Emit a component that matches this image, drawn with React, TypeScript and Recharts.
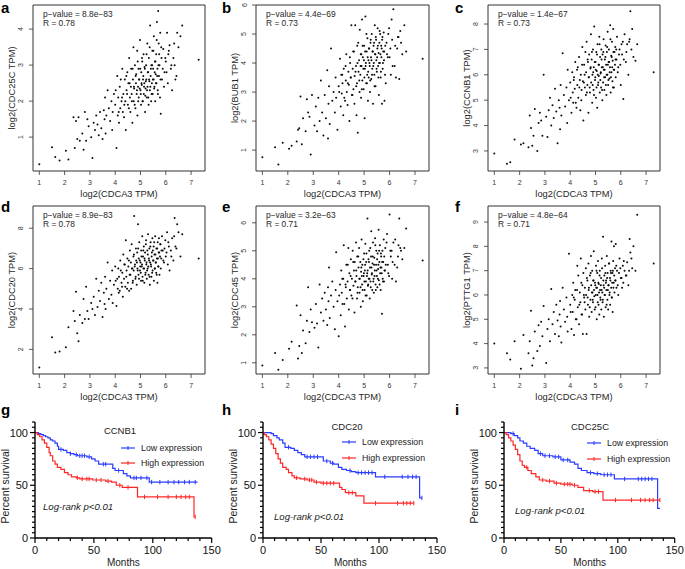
import React from "react";
import {
  ScatterChart,
  Scatter,
  ComposedChart,
  Line,
  XAxis,
  YAxis,
  ReferenceArea
} from "recharts";

// log2(CDCA3 TPM), shared x for all correlation panels
const cdca3 = [
  1.0, 1.5, 1.63, 1.8, 2.05, 2.15, 2.35, 2.4, 2.45, 2.5,
  2.55, 2.6, 2.7, 2.75, 2.8, 2.85, 2.9, 2.95, 3.05, 3.1,
  3.15, 3.2, 3.25, 3.3, 3.35, 3.4, 3.45, 3.5, 3.55, 3.58,
  3.6, 3.62, 3.65, 3.7, 3.75, 3.8, 3.85, 3.88, 3.9, 3.95,
  4.0, 4.05, 4.08, 4.1, 4.12, 4.15, 4.18, 4.2, 4.25, 4.28,
  4.3, 4.32, 4.35, 4.38, 4.4, 4.42, 4.45, 4.48, 4.5, 4.52,
  4.55, 4.58, 4.6, 4.62, 4.63, 4.65, 4.68, 4.7, 4.72, 4.73,
  4.75, 4.78, 4.8, 4.82, 4.83, 4.85, 4.87, 4.88, 4.9, 4.92,
  4.93, 4.95, 4.98, 5.0, 5.02, 5.03, 5.05, 5.07, 5.08, 5.1,
  5.12, 5.13, 5.15, 5.17, 5.18, 5.2, 5.22, 5.23, 5.25, 5.27,
  5.28, 5.3, 5.32, 5.33, 5.35, 5.37, 5.38, 5.4, 5.42, 5.43,
  5.45, 5.47, 5.48, 5.5, 5.52, 5.53, 5.55, 5.57, 5.58, 5.6,
  5.62, 5.63, 5.65, 5.67, 5.68, 5.7, 5.72, 5.73, 5.75, 5.77,
  5.78, 5.8, 5.83, 5.85, 5.9, 5.95, 6.0, 6.05, 6.08, 6.1,
  6.15, 6.2, 6.25, 6.3, 6.35, 6.38, 6.45, 6.5, 6.58, 6.65,
  7.3,
  4.02, 4.14, 4.22, 4.27, 4.36, 4.44, 4.47, 4.54, 4.57, 4.66,
  4.69, 4.74, 4.77, 4.81, 4.86, 4.89, 4.91, 4.94, 4.97, 4.99,
  5.01, 5.04, 5.06, 5.09, 5.11, 5.14, 5.16, 5.19, 5.21, 5.24,
  5.26, 5.29, 5.31, 5.34, 5.36, 5.39, 5.41, 5.44, 5.46, 5.49,
  5.51, 5.54, 5.56, 5.59, 5.61, 5.64, 5.66, 5.69, 5.71, 5.74,
  5.79, 5.82, 5.88, 5.93, 5.98, 6.03, 6.12, 6.22, 6.33, 6.42
];

const cdc25c = [
  0.25, 0.72, 0.45, 0.35, 0.62, 0.38, 1.55, 0.7, 1.45, 0.95,
  1.55, 0.9, 1.1, 0.65, 1.7, 0.9, 1.5, 1.3, 1.0, 0.42,
  1.4, 1.2, 1.6, 1.35, 1.05, 1.7, 1.25, 0.95, 1.75, 1.5,
  2.1, 1.1, 1.6, 2.3, 1.8, 1.45, 2.0, 1.2, 1.7, 2.2,
  1.9, 0.7, 2.7, 1.6, 2.1, 1.4, 2.4, 1.8, 2.0, 2.9,
  1.7, 2.2, 1.55, 2.6, 2.0, 1.2, 2.3, 2.8, 1.9, 2.5,
  3.2, 2.1, 1.7, 2.4, 2.9, 2.2, 1.4, 2.6, 3.5, 2.0,
  2.35, 3.0, 1.8, 2.5, 2.75, 2.2, 3.4, 1.6, 2.4, 2.9,
  2.1, 2.6, 3.7, 2.3, 1.9, 2.8, 2.45, 3.1, 2.0, 2.6,
  3.3, 2.2, 2.5, 2.9, 1.7, 2.35, 3.0, 2.6, 2.1, 3.6,
  2.4, 2.8, 1.9, 3.2, 2.55, 2.3, 4.1, 2.7, 2.0, 3.0,
  2.5, 3.4, 2.2, 2.9, 2.6, 3.8, 2.4, 3.1, 2.0, 2.75,
  3.3, 2.5, 4.2, 2.9, 2.3, 4.5, 3.6, 2.7, 3.0, 2.1,
  3.9, 1.65, 3.2, 2.6, 3.45, 2.8, 3.1, 3.9, 2.5, 3.3,
  3.55, 2.9, 2.3, 3.2, 3.0, 2.6, 3.9, 3.5, 3.8, 4.1,
  3.15,
  2.3, 1.7, 2.6, 2.1, 1.9, 2.7, 2.2, 1.8, 2.5, 2.0,
  2.9, 2.4, 1.9, 2.7, 2.3, 3.1, 2.0, 2.6, 2.35, 2.9,
  2.2, 2.5, 3.2, 2.0, 2.7, 2.4, 2.95, 2.15, 2.55, 3.3,
  2.3, 2.8, 2.1, 2.6, 3.5, 2.4, 2.9, 2.2, 3.0, 2.6,
  3.4, 2.35, 2.8, 3.1, 2.5, 3.7, 2.7, 2.2, 3.0, 3.3,
  2.6, 3.5, 2.9, 2.4, 3.2, 2.8, 3.4, 3.0, 3.6, 2.7
];

const bub1 = [
  0.75, 1.1, 0.5, 1.25, 1.05, 1.15, 1.3, 1.7, 1.75, 2.85,
  1.2, 2.1, 1.65, 2.75, 2.3, 2.15, 0.85, 2.9, 1.85, 2.5,
  1.65, 2.8, 2.0, 3.4, 2.3, 1.5, 2.9, 2.1, 3.75, 1.4,
  2.6, 3.2, 1.9, 4.5, 2.7, 3.0, 2.3, 3.5, 2.8, 1.7,
  3.2, 4.15, 2.5, 3.6, 2.95, 3.3, 2.2, 3.8, 2.7, 3.4,
  4.3, 3.0, 2.55, 3.7, 3.25, 2.0, 4.0, 3.5, 5.3, 2.9,
  3.8, 3.1, 4.4, 2.6, 3.55, 5.3, 3.9, 2.2, 3.3, 4.6,
  1.6, 3.7, 4.1, 3.0, 5.15, 3.6, 4.3, 2.8, 3.9, 5.5,
  3.4, 4.2, 3.1, 4.6, 2.1, 3.8, 5.6, 4.0, 3.3, 4.4,
  3.6, 4.85, 2.7, 4.1, 3.5, 4.5, 3.9, 3.0, 4.7, 4.2,
  3.45, 5.0, 3.8, 4.4, 2.6, 4.6, 4.0, 3.6, 5.3, 4.3,
  3.2, 4.8, 4.1, 3.7, 4.5, 5.2, 3.9, 4.35, 2.9, 4.7,
  4.0, 5.0, 3.5, 4.6, 4.2, 2.6, 4.9, 3.8, 4.4, 5.05,
  4.1, 2.7, 4.6, 3.3, 4.3, 5.0, 4.2, 3.6, 5.5, 4.8,
  5.85, 3.9, 3.5, 4.5, 4.9, 3.45, 4.7, 4.3, 5.3, 4.4,
  4.15,
  3.0, 3.6, 2.8, 3.9, 3.3, 4.2, 3.5, 2.9, 4.4, 3.7,
  3.2, 4.0, 4.7, 3.4, 3.9, 4.3, 3.1, 4.6, 3.8, 4.1,
  3.5, 4.4, 3.9, 5.0, 3.3, 4.2, 3.7, 4.5, 4.0, 3.4,
  4.8, 4.1, 3.6, 4.4, 3.9, 4.7, 3.2, 4.3, 4.9, 3.8,
  4.2, 4.6, 3.5, 4.0, 5.1, 4.3, 3.7, 4.5, 4.8, 4.0,
  4.4, 3.6, 4.7, 4.2, 5.2, 4.5, 3.9, 4.6, 4.9, 5.1
];

const ccnb1 = [
  2.9, 2.5, 2.55, 3.45, 3.25, 3.3, 3.15, 4.4, 3.9, 3.2,
  3.6, 4.65, 3.0, 4.1, 4.5, 4.2, 3.6, 6.0, 4.35, 3.55,
  4.6, 5.1, 4.0, 4.8, 4.3, 5.45, 4.55, 3.3, 5.0, 4.7,
  3.85, 5.6, 4.4, 6.85, 5.2, 4.75, 5.5, 4.1, 6.2, 5.0,
  5.7, 4.5, 6.1, 5.3, 4.9, 5.9, 5.45, 6.5, 4.7, 5.6,
  6.3, 5.1, 6.7, 5.8, 4.6, 6.0, 5.4, 7.1, 5.75, 4.2,
  6.4, 5.5, 6.9, 5.2, 6.1, 7.3, 5.6, 6.5, 4.5, 5.9,
  6.8, 5.3, 6.25, 7.6, 5.7, 6.6, 4.9, 6.0, 7.0, 5.4,
  6.3, 7.9, 5.8, 6.5, 5.1, 6.9, 6.15, 4.7, 7.2, 5.6,
  6.4, 5.95, 7.5, 5.3, 6.7, 6.05, 5.5, 7.0, 6.3, 5.0,
  6.8, 5.7, 7.4, 6.2, 5.4, 6.6, 5.9, 7.15, 6.4, 5.2,
  6.9, 6.0, 7.7, 5.6, 6.5, 7.0, 5.85, 6.3, 7.95, 5.3,
  6.75, 6.1, 7.3, 5.75, 6.55, 7.8, 6.2, 5.5, 6.9, 6.4,
  7.1, 5.9, 6.6, 7.5, 6.3, 7.0, 5.6, 6.8, 7.3, 5.05,
  7.6, 6.5, 7.2, 6.0, 7.4, 8.5, 7.8, 6.7, 6.55, 7.2,
  6.1,
  5.1, 5.8, 4.9, 6.2, 5.5, 5.0, 6.4, 5.7, 6.0, 5.3,
  6.6, 5.9, 5.5, 6.3, 6.9, 5.6, 6.1, 5.2, 6.5, 5.9,
  6.2, 5.5, 6.8, 6.0, 5.7, 6.4, 7.2, 5.8, 6.1, 6.6,
  5.4, 6.3, 6.9, 5.9, 6.2, 6.7, 5.6, 6.0, 7.1, 6.4,
  5.8, 6.5, 6.1, 7.4, 5.9, 6.7, 6.3, 5.5, 6.9, 6.2,
  6.6, 7.0, 6.1, 6.8, 6.4, 7.2, 6.6, 6.9, 7.3, 7.0
];

const cdc20 = [
  1.1, 2.6, 1.85, 1.9, 2.1, 3.1, 3.9, 3.4, 4.85, 2.8,
  2.4, 3.7, 3.3, 4.5, 3.5, 5.1, 3.9, 3.5, 4.3, 4.0,
  4.6, 3.7, 5.5, 4.1, 4.9, 4.4, 5.3, 3.6, 4.8, 4.25,
  5.6, 4.0, 5.0, 6.3, 4.5, 5.4, 4.7, 5.9, 4.3, 5.2,
  6.1, 4.15, 5.5, 5.0, 6.0, 5.6, 4.9, 6.4, 5.3, 5.8,
  4.6, 6.7, 5.5, 6.2, 5.1, 7.4, 5.9, 6.5, 5.3, 6.1,
  4.9, 6.9, 5.7, 6.3, 5.0, 7.2, 6.0, 5.4, 6.6, 5.9,
  8.6, 6.2, 5.5, 7.0, 6.4, 5.2, 6.8, 6.0, 8.2, 5.7,
  6.5, 7.3, 5.9, 6.3, 5.4, 6.9, 6.1, 7.6, 5.6, 6.6,
  6.0, 7.1, 5.3, 6.4, 6.8, 5.8, 7.4, 6.2, 5.5, 6.9,
  6.0, 7.7, 5.7, 6.5, 7.0, 5.2, 6.3, 7.3, 6.1, 5.6,
  6.8, 7.5, 5.9, 6.4, 7.1, 5.4, 6.7, 6.0, 7.6, 6.3,
  5.8, 7.0, 6.5, 5.3, 7.3, 6.1, 6.8, 7.5, 5.7, 6.6,
  7.2, 6.0, 6.9, 7.6, 6.4, 7.0, 6.6, 7.8, 6.2, 7.3,
  5.9, 6.9, 7.5, 6.4, 8.5, 7.1, 8.2, 7.8, 6.6, 7.7,
  6.5,
  5.4, 4.8, 5.9, 5.1, 6.2, 5.6, 5.0, 6.4, 5.7, 6.0,
  5.3, 6.7, 6.1, 5.6, 6.3, 5.9, 7.0, 5.5, 6.4, 6.1,
  5.8, 6.6, 6.2, 5.4, 6.9, 6.0, 6.5, 5.7, 7.2, 6.3,
  5.9, 6.7, 6.1, 6.4, 5.6, 7.1, 6.2, 6.6, 5.8, 6.9,
  6.4, 7.3, 6.0, 6.7, 6.3, 5.7, 7.0, 6.5, 6.1, 6.8,
  7.2, 6.5, 6.9, 6.3, 7.4, 6.8, 7.1, 6.6, 7.6, 7.0
];

const cdc45 = [
  0.9, 1.35, 0.75, 1.1, 1.5, 1.75, 3.05, 1.15, 1.6, 2.7,
  1.35, 2.15, 1.7, 2.5, 3.7, 2.1, 2.9, 2.45, 2.25, 3.1,
  2.4, 1.55, 3.8, 2.8, 3.3, 2.5, 3.5, 2.9, 2.35, 3.7,
  3.2, 4.4, 2.6, 3.4, 3.9, 3.0, 2.2, 3.6, 4.95, 3.2,
  1.95, 3.8, 2.7, 4.3, 3.5, 3.1, 4.0, 5.2, 2.3, 3.7,
  4.5, 3.3, 3.9, 5.1, 2.9, 4.2, 3.6, 4.7, 3.4, 4.0,
  5.0, 3.75, 4.3, 2.8, 4.6, 3.9, 5.3, 4.1, 3.3, 4.8,
  3.7, 4.4, 5.1, 3.5, 4.0, 4.6, 3.0, 4.25, 5.4, 3.8,
  4.5, 3.2, 4.1, 4.9, 3.6, 4.3, 5.25, 3.9, 4.6, 3.4,
  4.2, 6.15, 3.75, 4.7, 4.0, 5.0, 3.3, 4.4, 3.9, 4.8,
  5.7, 4.15, 3.6, 4.55, 5.3, 4.0, 3.5, 4.75, 4.3, 5.45,
  3.8, 4.5, 5.0, 4.1, 3.7, 4.9, 4.35, 5.75, 3.95, 4.6,
  5.2, 4.2, 3.6, 4.8, 4.4, 2.75, 5.0, 4.0, 4.6, 5.4,
  3.9, 4.3, 5.1, 4.5, 5.6, 4.2, 6.3, 4.8, 5.0, 4.0,
  5.3, 4.5, 3.9, 4.4, 5.2, 6.15, 5.0, 4.7, 5.1, 5.8,
  4.65,
  3.4, 4.0, 3.1, 3.8, 4.5, 3.6, 4.1, 3.3, 4.6, 3.9,
  4.3, 3.5, 4.8, 4.0, 3.7, 4.4, 4.1, 3.6, 4.7, 4.2,
  3.9, 4.5, 3.4, 4.9, 4.1, 4.3, 3.8, 4.6, 4.0, 5.1,
  3.7, 4.4, 4.2, 4.8, 3.9, 4.5, 4.1, 5.2, 3.6, 4.3,
  4.7, 4.0, 4.5, 5.0, 3.8, 4.4, 4.9, 4.2, 4.6, 3.9,
  4.8, 4.3, 5.3, 4.5, 4.1, 5.0, 4.6, 5.4, 4.8, 5.1
];

const pttg1 = [
  4.0, 3.6, 3.35, 4.1, 2.97, 4.35, 3.6, 4.1, 5.35, 3.1,
  3.4, 4.5, 3.7, 4.75, 3.9, 4.9, 4.3, 5.55, 3.2, 4.6,
  5.0, 4.1, 6.25, 4.8, 5.3, 4.4, 5.6, 4.95, 4.3, 5.2,
  5.75, 4.7, 4.05, 6.3, 5.4, 4.9, 5.9, 5.1, 4.5, 7.7,
  5.6, 4.6, 6.0, 5.3, 6.5, 4.35, 5.8, 6.2, 5.0, 7.2,
  5.5, 6.8, 4.8, 6.1, 5.7, 7.5, 5.2, 6.4, 4.4, 6.9,
  5.9, 6.3, 5.4, 7.1, 6.0, 4.4, 6.6, 5.6, 7.3, 6.2,
  5.1, 6.8, 5.8, 7.6, 6.4, 5.3, 7.0, 6.1, 5.7, 6.6,
  7.8, 5.95, 6.5, 5.5, 7.2, 6.3, 5.0, 6.9, 6.0, 7.4,
  5.6, 6.45, 5.2, 7.0, 6.2, 5.8, 6.7, 5.4, 7.5, 6.1,
  5.7, 8.4, 6.4, 5.1, 6.8, 6.0, 7.2, 5.5, 6.6, 6.2,
  7.6, 5.8, 6.9, 5.4, 6.4, 7.3, 6.0, 6.7, 5.6, 7.0,
  6.3, 8.2, 5.9, 6.9, 5.3, 7.4, 6.5, 8.0, 6.1, 7.1,
  6.6, 8.1, 6.3, 7.0, 6.0, 7.5, 6.7, 6.3, 7.2, 6.5,
  7.0, 6.8, 7.35, 6.4, 8.3, 7.75, 7.1, 8.0, 7.0, 9.3,
  7.3,
  5.3, 5.9, 5.0, 6.2, 5.6, 6.5, 5.2, 6.0, 5.7, 6.7,
  5.9, 6.3, 5.5, 6.9, 6.1, 5.8, 6.6, 6.2, 5.4, 6.4,
  6.0, 7.0, 6.3, 5.7, 6.5, 6.1, 6.8, 5.9, 6.4, 6.2,
  7.1, 5.8, 6.6, 6.3, 6.0, 6.9, 6.5, 5.6, 6.7, 6.2,
  6.4, 7.3, 6.1, 6.6, 6.9, 5.9, 6.5, 7.0, 6.3, 6.8,
  6.6, 7.2, 6.4, 6.9, 7.1, 6.7, 7.4, 6.8, 7.0, 7.5
];

const scatterXTicks = [1, 2, 3, 4, 5, 6, 7];
const scatterXDomain = [0.75, 7.55];

// Kaplan-Meier steps: [months, percent survival]
const ccnb1Low = [[0, 100], [3, 99], [5, 98], [7, 97], [9, 96], [11, 95], [13, 93], [15, 92], [17, 90], [19, 87], [20, 84], [24, 83], [27, 81], [30, 80], [33, 79], [36, 78], [44, 77], [48, 75], [51, 73], [54, 70], [66, 66], [68, 64], [75, 61], [78, 59], [81, 57], [97, 53], [138, 53]];
const ccnb1High = [[0, 100], [2, 98], [4, 96], [6, 93], [8, 90], [10, 86], [12, 81], [13, 78], [15, 73], [17, 70], [19, 67], [22, 65], [25, 62], [28, 60], [31, 58], [35, 57], [38, 56], [49, 55], [60, 54], [65, 53], [69, 50], [74, 48], [87, 39], [135, 20], [136, 20]];
const ccnb1LowCens = [22, 30, 35, 38, 40, 42, 46, 58, 60, 71, 84, 86, 90, 95, 99, 106, 113, 118, 122, 127, 131, 136];
const ccnb1HighCens = [36, 40, 44, 46, 52, 56, 62, 72, 79, 93, 104, 113, 120, 124, 128, 131, 136];

const cdc20Low = [[0, 100], [7, 99], [9, 97], [12, 95], [14, 93], [17, 90], [19, 86], [24, 85], [27, 83], [30, 81], [33, 79], [36, 77], [52, 73], [58, 71], [61, 70], [65, 67], [68, 65], [72, 64], [76, 63], [80, 62], [97, 58], [135, 38], [137, 38]];
const cdc20High = [[0, 100], [1, 98], [3, 96], [5, 93], [7, 89], [9, 85], [11, 80], [13, 75], [15, 71], [17, 67], [20, 65], [22, 62], [25, 59], [27, 57], [32, 56], [38, 55], [44, 53], [50, 52], [66, 48], [68, 46], [71, 43], [80, 40], [87, 33], [130, 33]];
const cdc20LowCens = [22, 38, 41, 44, 47, 55, 60, 75, 82, 85, 88, 91, 94, 105, 120, 125, 129, 132, 137];
const cdc20HighCens = [29, 36, 40, 42, 46, 52, 55, 58, 61, 74, 77, 97, 116, 121, 124, 127, 130];

const cdc25cLow = [[0, 100], [6, 99], [9, 97], [12, 95], [14, 92], [17, 90], [20, 87], [23, 85], [27, 83], [30, 80], [34, 78], [43, 77], [50, 74], [58, 72], [62, 70], [65, 66], [68, 64], [73, 62], [79, 61], [85, 60], [97, 56], [135, 28], [137, 28]];
const cdc25cHigh = [[0, 100], [2, 98], [4, 95], [6, 92], [8, 88], [10, 84], [12, 79], [14, 73], [16, 69], [18, 67], [21, 64], [24, 61], [28, 58], [31, 55], [37, 54], [44, 52], [50, 51], [60, 50], [65, 48], [70, 45], [78, 44], [87, 36], [137, 36]];
const cdc25cLowCens = [8, 32, 36, 40, 45, 48, 52, 56, 76, 82, 88, 91, 94, 106, 118, 121, 124, 127, 130];
const cdc25cHighCens = [20, 34, 40, 46, 53, 56, 58, 62, 75, 80, 83, 98, 112, 120, 124, 128, 131, 137];

const kmXTicks = [0, 10, 20, 30, 40, 50, 60, 70, 80, 90, 100, 110, 120, 130, 140, 150];
const kmYTicks = [0, 5, 10, 15, 20, 25, 30, 35, 40, 45, 50, 55, 60, 65, 70, 75, 80, 85, 90, 95, 100, 105, 110];

const BLUE = "#2b3cff";
const RED = "#ff2626";
const INK = "#262626";

function survAt(curve: number[][], t: number) {
  let s = 100;
  for (const [ct, cs] of curve) if (ct <= t) s = cs;
  return s;
}

const dot = (p: any) => <circle cx={p.cx} cy={p.cy} r={1.0} fill="#0a0a0a" />;

const RXTick = (p: any) => (
  <g>
    <line x1={p.x} x2={p.x} y1={p.y} y2={p.y + 4} stroke="#333" strokeWidth={0.8} />
    <text x={p.x} y={p.y + 11} textAnchor="middle" dominantBaseline="central" fontSize={7} fill="#333">
      {p.payload.value}
    </text>
  </g>
);

const RYTick = (p: any) => (
  <g>
    <line x1={p.x - 4} x2={p.x} y1={p.y} y2={p.y} stroke="#333" strokeWidth={0.8} />
    <text
      x={p.x - 12}
      y={p.y}
      transform={`rotate(-90 ${p.x - 12} ${p.y})`}
      textAnchor="middle"
      dominantBaseline="central"
      fontSize={7}
      fill="#333"
    >
      {p.payload.value}
    </text>
  </g>
);

interface ScatterProps {
  ys: number[];
  yDomain: number[];
  yTicks: number[];
  yLabel: string;
  pText: string;
  rText: string;
  x0: number;
  y0: number;
  x1: number;
  y1: number;
}

function ScatterPanel({ ys, yDomain, yTicks, yLabel, pText, rText, x0, y0, x1, y1 }: ScatterProps) {
  const YW = 26, XH = 32, PAD = 4;
  const width = x1 - x0 + YW + PAD;
  const height = y1 - y0 + XH + PAD;
  const data = cdca3.map((x, i) => ({ x, y: ys[i] }));
  const textStyle: React.CSSProperties = { position: "absolute", fontSize: 8.4, color: INK, whiteSpace: "nowrap", lineHeight: 1 };
  return (
    <>
      <div style={{ position: "absolute", left: x0 - YW, top: y0 - PAD }}>
        <ScatterChart width={width} height={height} margin={{ top: PAD, right: PAD, left: 0, bottom: 0 }}>
          <XAxis
            type="number"
            dataKey="x"
            domain={scatterXDomain}
            ticks={scatterXTicks}
            allowDataOverflow
            interval={0}
            axisLine={false}
            tickLine={false}
            tickSize={0}
            tickMargin={0}
            height={XH}
            tick={RXTick}
          />
          <YAxis
            type="number"
            dataKey="y"
            domain={yDomain}
            ticks={yTicks}
            allowDataOverflow
            interval={0}
            axisLine={false}
            tickLine={false}
            tickSize={0}
            tickMargin={0}
            width={YW}
            tick={RYTick}
          />
          <ReferenceArea
            x1={scatterXDomain[0]}
            x2={scatterXDomain[1]}
            y1={yDomain[0]}
            y2={yDomain[1]}
            fill="none"
            fillOpacity={0}
            stroke="#333"
            strokeWidth={1}
            ifOverflow="visible"
          />
          <Scatter data={data} shape={dot} isAnimationActive={false} />
        </ScatterChart>
      </div>
      <div style={{ ...textStyle, left: x0 + 10, top: y0 + 5 }}>{pText}</div>
      <div style={{ ...textStyle, left: x0 + 10, top: y0 + 14 }}>{rText}</div>
      <div
        style={{
          position: "absolute",
          left: (x0 + x1) / 2 - 60,
          width: 120,
          top: y1 + 19,
          textAlign: "center",
          fontSize: 9.3,
          color: INK,
          lineHeight: 1
        }}
      >
        log2(CDCA3 TPM)
      </div>
      <div
        style={{
          position: "absolute",
          left: x0 - 21 - 60,
          width: 120,
          top: (y0 + y1) / 2 - 5,
          textAlign: "center",
          fontSize: 9.3,
          color: INK,
          lineHeight: "10px",
          transform: "rotate(-90deg)",
          whiteSpace: "nowrap"
        }}
      >
        {yLabel}
      </div>
    </>
  );
}

const KMXTick = (p: any) => {
  const v = p.payload.value;
  const major = v % 50 === 0;
  return (
    <g>
      <line x1={p.x} x2={p.x} y1={p.y} y2={p.y + (major ? 5 : 3)} stroke="#000" strokeWidth={1.2} />
      {major && (
        <text x={p.x} y={p.y + 12} textAnchor="middle" dominantBaseline="central" fontSize={11} fill="#111">
          {v}
        </text>
      )}
    </g>
  );
};

const KMYTick = (p: any) => {
  const v = p.payload.value;
  const major = v % 50 === 0 && v <= 100;
  return (
    <g>
      <line x1={p.x - (major ? 5 : 3)} x2={p.x} y1={p.y} y2={p.y} stroke="#000" strokeWidth={1.2} />
      {major && (
        <text x={p.x - 7} y={p.y} textAnchor="end" dominantBaseline="central" fontSize={11} fill="#111">
          {v}
        </text>
      )}
    </g>
  );
};

const censorShape = (color: string) => (p: any) =>
  <line x1={p.cx} x2={p.cx} y1={p.cy - 2.2} y2={p.cy + 2.2} stroke={color} strokeWidth={1} />;

interface KMProps {
  gene: string;
  low: number[][];
  high: number[][];
  lowCens: number[];
  highCens: number[];
  axisX: number;
  plotRight: number;
  titleX: number;
  titleY: number;
  legX: number;
  legY: number;
  legGap: number;
  logX: number;
  logY: number;
}

function KMPanel(props: KMProps) {
  const { gene, low, high, lowCens, highCens, axisX, plotRight, titleX, titleY, legX, legY, legGap, logX, logY } = props;
  const YW = 35, TOP = 380, H = 189, MT = 42, XH = 31, RP = 14;
  const width = plotRight - axisX + YW + RP;
  const lowData = low.map(([t, s]) => ({ t, s }));
  const highData = high.map(([t, s]) => ({ t, s }));
  const lowC = lowCens.map((t) => ({ t, s: survAt(low, t) }));
  const highC = highCens.map((t) => ({ t, s: survAt(high, t) }));
  const txt: React.CSSProperties = { position: "absolute", whiteSpace: "nowrap", lineHeight: 1, color: "#222" };
  const legendItem = (color: string, label: string, y: number) => (
    <div style={{ ...txt, left: legX, top: y - 5, display: "flex", alignItems: "center", fontSize: 8.8 }}>
      <svg width={14} height={8} style={{ marginRight: 6 }}>
        <line x1={0} x2={14} y1={4} y2={4} stroke={color} strokeWidth={1.2} />
        <line x1={7} x2={7} y1={2} y2={6} stroke={color} strokeWidth={1} />
      </svg>
      <span>{label}</span>
    </div>
  );
  return (
    <>
      <div style={{ position: "absolute", left: axisX - YW, top: TOP }}>
        <ComposedChart width={width} height={H} margin={{ top: MT, right: RP, left: 0, bottom: 0 }}>
          <XAxis
            type="number"
            dataKey="t"
            domain={[0, 150]}
            ticks={kmXTicks}
            interval={0}
            allowDataOverflow
            axisLine={{ stroke: "#000", strokeWidth: 1.4 }}
            tickLine={false}
            tickSize={0}
            tickMargin={0}
            height={XH}
            tick={KMXTick}
          />
          <YAxis
            type="number"
            domain={[0, 110]}
            ticks={kmYTicks}
            interval={0}
            allowDataOverflow
            axisLine={{ stroke: "#000", strokeWidth: 1.4 }}
            tickLine={false}
            tickSize={0}
            tickMargin={0}
            width={YW}
            tick={KMYTick}
          />
          <Line data={lowData} dataKey="s" type="stepAfter" stroke={BLUE} strokeWidth={1.2} dot={false} isAnimationActive={false} />
          <Line data={highData} dataKey="s" type="stepAfter" stroke={RED} strokeWidth={1.2} dot={false} isAnimationActive={false} />
          <Scatter data={lowC} dataKey="s" shape={censorShape(BLUE)} isAnimationActive={false} />
          <Scatter data={highC} dataKey="s" shape={censorShape(RED)} isAnimationActive={false} />
        </ComposedChart>
      </div>
      <div style={{ ...txt, left: titleX - 30, width: 60, textAlign: "center", top: titleY - 5, fontSize: 9.5 }}>{gene}</div>
      {legendItem(BLUE, "Low expression", legY)}
      {legendItem(RED, "High expression", legY + legGap)}
      <div style={{ ...txt, left: logX, top: logY - 5, fontSize: 9.6, fontStyle: "italic" }}>Log-rank p&lt;0.01</div>
      <div style={{ ...txt, left: (axisX + plotRight) / 2 - 40, width: 80, textAlign: "center", top: 558, fontSize: 10 }}>Months</div>
      <div
        style={{
          ...txt,
          left: axisX - 30 - 50,
          width: 100,
          textAlign: "center",
          top: 486 - 5,
          fontSize: 10.5,
          transform: "rotate(-90deg)"
        }}
      >
        Percent survival
      </div>
    </>
  );
}

const letterStyle: React.CSSProperties = {
  position: "absolute",
  fontSize: 15,
  fontWeight: "bold",
  lineHeight: 1,
  color: "#000",
  fontFamily: "'Liberation Sans', Arial, sans-serif"
};

export default function App() {
  const cols = [[33, 205], [256, 429], [488, 660]];
  const rows = [[5, 171], [206, 374]];
  return (
    <div
      style={{
        position: "absolute",
        left: 0,
        top: 0,
        width: 685,
        height: 569,
        background: "#fff",
        overflow: "hidden",
        fontFamily: "'Liberation Sans', Arial, sans-serif"
      }}
    >
      <ScatterPanel ys={cdc25c} yDomain={[0.06, 4.67]} yTicks={[1, 2, 3, 4]} yLabel="log2(CDC25C TPM)" pText="p−value = 8.8e−83" rText="R = 0.78" x0={cols[0][0]} x1={cols[0][1]} y0={rows[0][0]} y1={rows[0][1]} />
      <ScatterPanel ys={bub1} yDomain={[0.28, 6.0]} yTicks={[1, 2, 3, 4, 5, 6]} yLabel="log2(BUB1 TPM)" pText="p−value = 4.4e−69" rText="R = 0.73" x0={cols[1][0]} x1={cols[1][1]} y0={rows[0][0]} y1={rows[0][1]} />
      <ScatterPanel ys={ccnb1} yDomain={[2.21, 8.75]} yTicks={[3, 4, 5, 6, 7, 8]} yLabel="log2(CCNB1 TPM)" pText="p−value = 1.4e−67" rText="R = 0.73" x0={cols[2][0]} x1={cols[2][1]} y0={rows[0][0]} y1={rows[0][1]} />
      <ScatterPanel ys={cdc20} yDomain={[0.78, 9.1]} yTicks={[2, 4, 6, 8]} yLabel="log2(CDC20 TPM)" pText="p−value = 8.9e−83" rText="R = 0.78" x0={cols[0][0]} x1={cols[0][1]} y0={rows[1][0]} y1={rows[1][1]} />
      <ScatterPanel ys={cdc45} yDomain={[0.6, 6.6]} yTicks={[1, 2, 3, 4, 5, 6]} yLabel="log2(CDC45 TPM)" pText="p−value = 3.2e−63" rText="R = 0.71" x0={cols[1][0]} x1={cols[1][1]} y0={rows[1][0]} y1={rows[1][1]} />
      <ScatterPanel ys={pttg1} yDomain={[2.75, 9.66]} yTicks={[3, 4, 5, 6, 7, 8, 9]} yLabel="log2(PTTG1 TPM)" pText="p−value = 4.8e−64" rText="R = 0.71" x0={cols[2][0]} x1={cols[2][1]} y0={rows[1][0]} y1={rows[1][1]} />

      <KMPanel gene="CCNB1" low={ccnb1Low} high={ccnb1High} lowCens={ccnb1LowCens} highCens={ccnb1HighCens} axisX={35} plotRight={211.7} titleX={120} titleY={431} legX={121} legY={449} legGap={15} logX={43} logY={507} />
      <KMPanel gene="CDC20" low={cdc20Low} high={cdc20High} lowCens={cdc20LowCens} highCens={cdc20HighCens} axisX={263.3} plotRight={437.3} titleX={347} titleY={427} legX={342} legY={443} legGap={16} logX={274} logY={517} />
      <KMPanel gene="CDC25C" low={cdc25cLow} high={cdc25cHigh} lowCens={cdc25cLowCens} highCens={cdc25cHighCens} axisX={504.3} plotRight={675} titleX={590} titleY={427} legX={587} legY={444} legGap={16} logX={515} logY={511} />

      <div style={{ ...letterStyle, left: 1, top: 0 }}>a</div>
      <div style={{ ...letterStyle, left: 222, top: 0 }}>b</div>
      <div style={{ ...letterStyle, left: 455, top: 0 }}>c</div>
      <div style={{ ...letterStyle, left: 1, top: 199 }}>d</div>
      <div style={{ ...letterStyle, left: 222, top: 199 }}>e</div>
      <div style={{ ...letterStyle, left: 455, top: 199 }}>f</div>
      <div style={{ ...letterStyle, left: 1, top: 402 }}>g</div>
      <div style={{ ...letterStyle, left: 222, top: 402 }}>h</div>
      <div style={{ ...letterStyle, left: 455, top: 402 }}>i</div>
    </div>
  );
}
